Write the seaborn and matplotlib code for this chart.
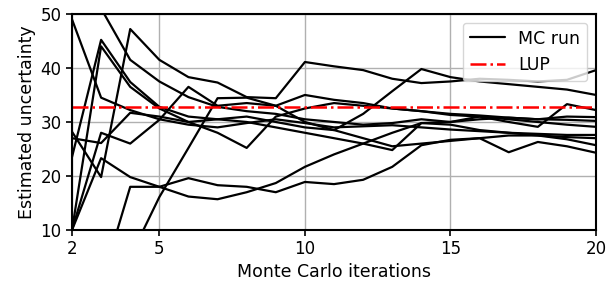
import numpy as np
import pandas as pd
import matplotlib
matplotlib.use("Agg")
import matplotlib.pyplot as plt
from matplotlib.lines import Line2D
import seaborn as sns

sns.set_style("ticks")
plt.rcParams['font.family'] = ['DejaVu Sans']
plt.rcParams['text.color'] = 'black'
plt.rcParams['axes.labelcolor'] = 'black'
plt.rcParams['xtick.color'] = 'black'
plt.rcParams['ytick.color'] = 'black'

iterations = list(range(2, 21))

run1 = [49.0, 34.5, 32.2, 30.5, 29.5, 29.0, 29.8, 30.5, 29.8, 29.0, 29.2, 29.4, 29.0, 28.6, 28.3, 28.0, 27.8, 27.6, 27.6]
run2 = [28.2, 19.8, 47.2, 41.5, 38.3, 37.3, 34.6, 34.4, 41.1, 40.3, 39.6, 38.0, 37.2, 37.5, 38.0, 37.8, 37.5, 37.8, 39.6]
run3 = [56.0, 51.0, 41.5, 37.5, 34.6, 32.8, 32.0, 31.5, 30.5, 30.0, 29.5, 29.8, 30.5, 30.0, 30.5, 30.8, 30.5, 30.4, 30.2]
run4 = [27.0, 26.1, 31.7, 31.0, 30.0, 28.0, 25.2, 31.0, 32.5, 33.5, 33.0, 32.5, 32.0, 31.5, 31.2, 30.8, 30.5, 31.0, 30.9]
run5 = [23.5, 45.2, 37.4, 32.8, 31.0, 30.5, 30.0, 29.0, 28.0, 27.0, 26.0, 24.8, 29.8, 30.0, 31.0, 30.0, 29.1, 33.3, 32.2]
run6 = [10.0, 44.0, 36.5, 32.5, 30.0, 30.5, 31.0, 30.0, 29.0, 28.5, 27.0, 25.5, 26.0, 26.5, 27.0, 27.5, 27.5, 27.2, 27.0]
run7 = [10.0, 28.0, 26.0, 30.4, 36.5, 33.0, 33.5, 33.0, 35.0, 34.1, 33.5, 32.5, 32.0, 31.3, 31.0, 30.5, 30.0, 29.5, 29.1]
run8 = [10.0, 23.3, 19.8, 18.0, 16.2, 15.7, 17.0, 18.7, 21.7, 24.0, 26.0, 28.0, 29.8, 29.5, 28.5, 28.0, 27.5, 26.8, 25.7]
run9 = [3.0, 0.0, 18.0, 18.0, 19.6, 18.3, 18.0, 17.0, 18.9, 18.5, 19.3, 21.7, 25.7, 26.7, 27.0, 24.4, 26.3, 25.5, 24.3]
run10 = [4.0, 3.0, 5.0, 16.1, 25.2, 34.4, 34.5, 33.0, 30.0, 28.5, 31.5, 35.7, 39.8, 38.3, 37.5, 37.0, 36.5, 36.0, 35.0]

lup_value = 32.8

runs = [run1, run2, run3, run4, run5, run6, run7, run8, run9, run10]
df = pd.DataFrame({
    'iteration': iterations * len(runs),
    'uncertainty': np.concatenate(runs),
    'run': np.repeat(np.arange(len(runs)), len(iterations)),
})
df_lup = pd.DataFrame({'iteration': iterations, 'uncertainty': [lup_value] * len(iterations)})

fig = plt.figure(figsize=(6.07, 2.84), dpi=100)
ax = fig.add_axes([0.1186, 0.190, 0.8634, 0.761])

sns.lineplot(data=df, x='iteration', y='uncertainty', units='run', estimator=None,
             color='black', linewidth=1.6, ax=ax, legend=False)
sns.lineplot(data=df_lup, x='iteration', y='uncertainty', color='red',
             linestyle='-.', linewidth=1.8, ax=ax, legend=False)

ax.set_xlim(2, 20)
ax.set_ylim(10, 50)
ax.set_xticks([2, 5, 10, 15, 20])
ax.set_yticks([10, 20, 30, 40, 50])
ax.grid(True, color='#b0b0b0', linewidth=1)
ax.set_axisbelow(True)
for s in ax.spines.values():
    s.set_linewidth(1.5)
    s.set_color('black')
ax.tick_params(labelsize=12, width=1.2, length=4, color='black', labelcolor='black')
ax.set_xlabel("Monte Carlo iterations", fontsize=12.5, labelpad=3)
ax.set_ylabel("Estimated uncertainty", fontsize=12.5, labelpad=3)

handles = [Line2D([], [], color='black', linewidth=1.6),
           Line2D([], [], color='red', linestyle='-.', linewidth=1.8)]
ax.legend(handles, ["MC run", "LUP"], loc='upper right', fontsize=12.5, framealpha=0.8)

fig.savefig("out.png", dpi=100)
